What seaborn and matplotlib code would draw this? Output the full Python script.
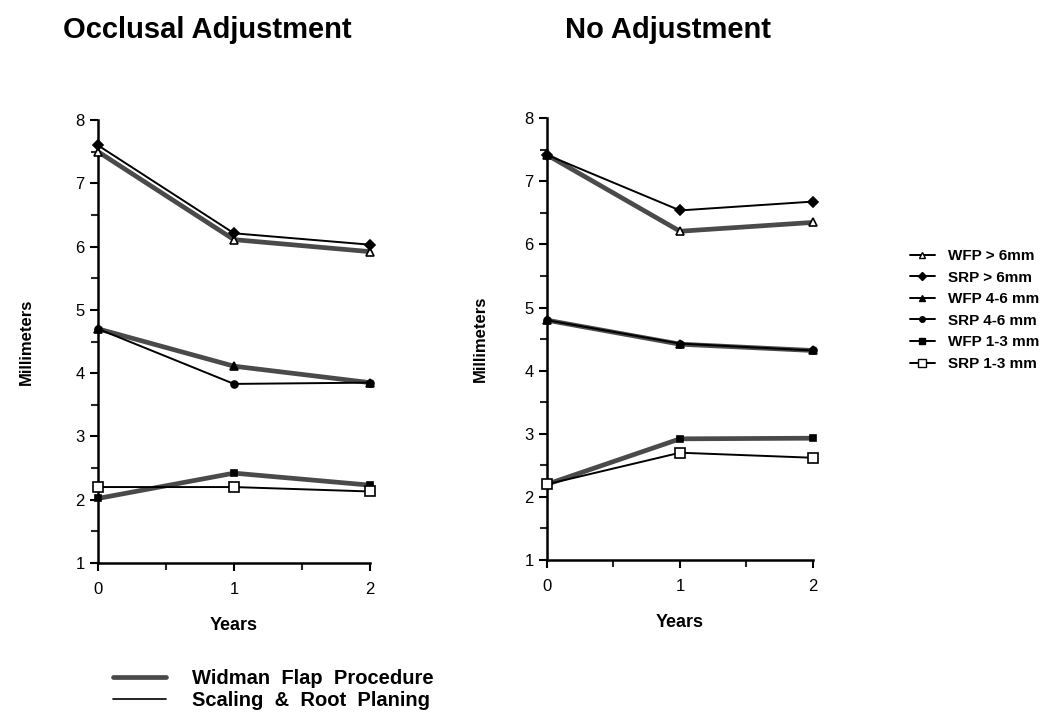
import matplotlib
matplotlib.use("Agg")
import matplotlib.pyplot as plt
from matplotlib.lines import Line2D
import seaborn as sns
import pandas as pd

years = [0, 1, 2]
series_names = ["WFP > 6mm", "SRP > 6mm", "WFP 4-6 mm", "SRP 4-6 mm", "WFP 1-3 mm", "SRP 1-3 mm"]

# Occlusal Adjustment
occ_wfp_gt6 = [7.50, 6.11, 5.92]
occ_srp_gt6 = [7.60, 6.21, 6.03]
occ_wfp_46 = [4.70, 4.11, 3.85]
occ_srp_46 = [4.70, 3.83, 3.85]
occ_wfp_13 = [2.02, 2.42, 2.23]
occ_srp_13 = [2.20, 2.20, 2.13]

# No Adjustment
no_wfp_gt6 = [7.42, 6.21, 6.35]
no_srp_gt6 = [7.42, 6.54, 6.68]
no_wfp_46 = [4.80, 4.42, 4.32]
no_srp_46 = [4.80, 4.43, 4.32]
no_wfp_13 = [2.20, 2.92, 2.93]
no_srp_13 = [2.20, 2.70, 2.62]

panels = {
    "Occlusal Adjustment": [occ_wfp_gt6, occ_srp_gt6, occ_wfp_46, occ_srp_46, occ_wfp_13, occ_srp_13],
    "No Adjustment": [no_wfp_gt6, no_srp_gt6, no_wfp_46, no_srp_46, no_wfp_13, no_srp_13],
}

# marker, facecolor, markersize, WFP (thick hatched line) or not
styles = {
    "WFP > 6mm": ("^", "white", 6, True),
    "SRP > 6mm": ("D", "black", 5, False),
    "WFP 4-6 mm": ("^", "black", 6, True),
    "SRP 4-6 mm": ("o", "black", 5, False),
    "WFP 1-3 mm": ("s", "black", 5, True),
    "SRP 1-3 mm": ("s", "white", 7, False),
}
WFP_COLOR = "#4a4a4a"

sns.set_style("ticks")
plt.rcParams["font.family"] = ["Liberation Sans", "DejaVu Sans"]
plt.rcParams["text.color"] = "black"
plt.rcParams["axes.labelcolor"] = "black"

fig = plt.figure(figsize=(10.57, 7.17), dpi=100)
ax_pos = [[0.0927, 0.2148, 0.2573, 0.6178], [0.5175, 0.219, 0.2516, 0.616]]
title_x = [0.196, 0.632]
ylab_pad = [30, 26]

for i, (title, vals) in enumerate(panels.items()):
    ax = fig.add_axes(ax_pos[i])
    for name, v in zip(series_names, vals):
        mk, fc, ms, wfp = styles[name]
        df = pd.DataFrame({"Years": years, "mm": v})
        sns.lineplot(data=df, x="Years", y="mm", ax=ax,
                     color=WFP_COLOR if wfp else "black",
                     lw=3.4 if wfp else 1.4,
                     marker=mk, markersize=ms, markerfacecolor=fc,
                     markeredgecolor="black", markeredgewidth=1.2,
                     clip_on=False, zorder=3 if wfp else 4)
    ax.set_xlim(0, 2)
    ax.set_ylim(1, 8)
    ax.set_xticks([0, 1, 2])
    ax.set_xticks([0.5, 1.5], minor=True)
    ax.set_yticks(range(1, 9))
    ax.set_yticks([1.5 + k for k in range(7)], minor=True)
    ax.tick_params(axis="both", which="major", labelsize=12, length=6, width=1.5, direction="out", colors="black")
    ax.tick_params(axis="both", which="minor", length=5, width=1.5, direction="out")
    ax.xaxis.set_tick_params(pad=8)
    for s in ["left", "bottom"]:
        ax.spines[s].set_linewidth(1.8)
        ax.spines[s].set_color("black")
    sns.despine(ax=ax)
    ax.set_xlabel("Years", fontsize=13, fontweight="bold", labelpad=14)
    ax.set_ylabel("Millimeters", fontsize=12, fontweight="bold", labelpad=ylab_pad[i])
    fig.text(title_x[i], 0.958, title, fontsize=21, fontweight="bold", ha="center", va="center")

# series legend (right)
handles = []
for name in series_names:
    mk, fc, ms, wfp = styles[name]
    handles.append(Line2D([0], [0], color="black", lw=1.4, marker=mk, markersize=ms - 1,
                          markerfacecolor=fc, markeredgecolor="black"))
fig.legend(handles, series_names, loc="upper left", bbox_to_anchor=(0.848, 0.672),
           frameon=False, handlelength=1.6, handletextpad=0.9, labelspacing=0.5,
           prop={"weight": "bold", "size": 11})

# method legend (bottom)
mh = [Line2D([0], [0], color=WFP_COLOR, lw=3.4), Line2D([0], [0], color="black", lw=1.2)]
fig.legend(mh, ["Widman  Flap  Procedure", "Scaling  &  Root  Planing"], loc="upper left",
           bbox_to_anchor=(0.09, 0.092), frameon=False, handlelength=2.6, handletextpad=1.3,
           labelspacing=0.15, prop={"weight": "bold", "size": 14.5})

fig.savefig("out.png", dpi=100)
